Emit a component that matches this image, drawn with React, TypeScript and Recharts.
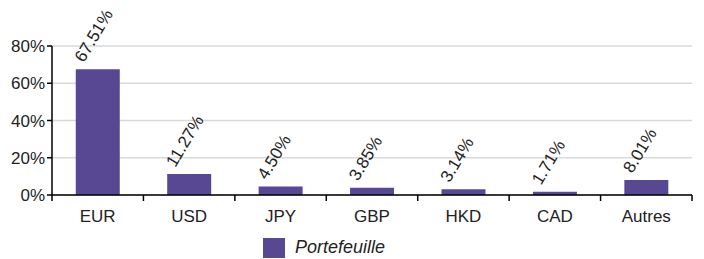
import React from 'react';
import { BarChart, Bar, XAxis, YAxis, CartesianGrid, Legend, LabelList } from 'recharts';

const currencies = ['EUR', 'USD', 'JPY', 'GBP', 'HKD', 'CAD', 'Autres'];
const portefeuille = [67.51, 11.27, 4.5, 3.85, 3.14, 1.71, 8.01];
const yTicks = [0, 20, 40, 60, 80];

const data = currencies.map((c, i) => ({ name: c, value: portefeuille[i] }));

const FONT = '"Liberation Sans Narrow", "Arial Narrow", "Liberation Sans", Arial, sans-serif';
const BAR_COLOR = '#584894';
const WIDTH = 704;
const HEIGHT = 259;
const LEFT = 52;
const RIGHT = 12;
const BAND = (WIDTH - LEFT - RIGHT) / currencies.length;

const XTick = (props: any) => {
  const { x, y, payload, index } = props;
  const axisY = y - 8;
  return (
    <g>
      <line x1={x - BAND / 2} x2={x - BAND / 2} y1={axisY} y2={axisY + 6} stroke="#000" strokeWidth={1.5} />
      {index === currencies.length - 1 && (
        <line x1={x + BAND / 2} x2={x + BAND / 2} y1={axisY} y2={axisY + 6} stroke="#000" strokeWidth={1.5} />
      )}
      <text x={x} y={axisY + 27} textAnchor="middle" fontSize={17} fontFamily={FONT} fill="#222">
        {payload.value}
      </text>
    </g>
  );
};

const BarLabel = (props: any) => {
  const { x, y, width, value } = props;
  const cx = x + width / 2 - 14;
  const cy = y - 6;
  return (
    <text
      x={cx}
      y={cy}
      transform={`rotate(-59 ${cx} ${cy})`}
      textAnchor="start"
      fontSize={17}
      fontFamily={FONT}
      fill="#222"
    >
      {value.toFixed(2)}%
    </text>
  );
};

const LegendContent = () => (
  <div style={{ display: 'flex', alignItems: 'center', paddingLeft: 263, paddingTop: 12 }}>
    <div style={{ width: 22, height: 20, background: BAR_COLOR }} />
    <span style={{ marginLeft: 10, fontStyle: 'italic', fontSize: 18, fontFamily: FONT, color: '#222' }}>
      Portefeuille
    </span>
  </div>
);

export default function App() {
  return (
    <div style={{ position: 'absolute', left: 0, top: 0, background: '#fff' }}>
      <BarChart
        width={WIDTH}
        height={HEIGHT}
        data={data}
        margin={{ top: 46, right: RIGHT, bottom: 0, left: 0 }}
        barCategoryGap="26%"
      >
        <CartesianGrid vertical={false} stroke="#d9d9d9" strokeWidth={1.5} />
        <XAxis
          dataKey="name"
          height={30}
          tickLine={false}
          axisLine={{ stroke: '#000', strokeWidth: 1.5 }}
          tick={<XTick />}
          interval={0}
        />
        <YAxis
          width={LEFT}
          domain={[0, 80]}
          ticks={yTicks}
          tickFormatter={(v: number) => `${v}%`}
          axisLine={{ stroke: '#000', strokeWidth: 1.5 }}
          tickLine={{ stroke: '#000', strokeWidth: 1.5 }}
          tickSize={5}
          tick={{ fontSize: 17, fontFamily: FONT, fill: '#222' }}
        />
        <Legend verticalAlign="bottom" height={34} content={<LegendContent />} />
        <Bar dataKey="value" fill={BAR_COLOR} isAnimationActive={false}>
          <LabelList dataKey="value" content={<BarLabel />} />
        </Bar>
      </BarChart>
    </div>
  );
}
